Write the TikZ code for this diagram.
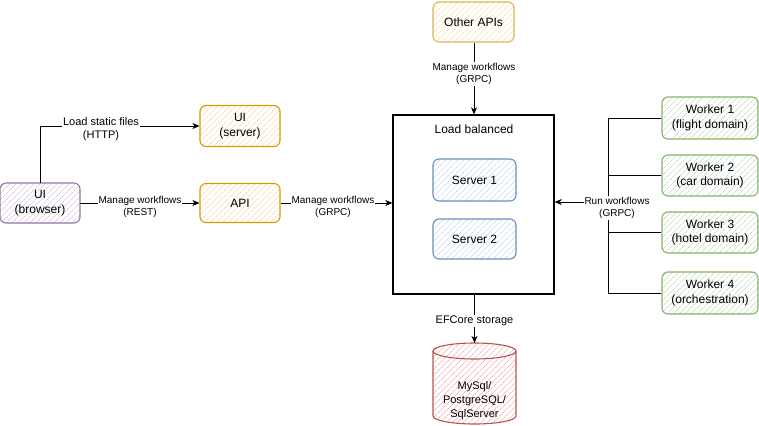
\documentclass[tikz,border=0pt]{standalone}
\usepackage{fontspec}
\setmainfont{Liberation Sans}
\usetikzlibrary{arrows.meta,patterns.meta}
\definecolor{purS}{HTML}{9673A6}\definecolor{purF}{HTML}{D9C8E2}
\definecolor{orS}{HTML}{D79B00}\definecolor{orF}{HTML}{FAD9B4}
\definecolor{yeS}{HTML}{D6B656}\definecolor{yeF}{HTML}{F8E6AE}
\definecolor{blS}{HTML}{6C8EBF}\definecolor{blF}{HTML}{C9DBF5}
\definecolor{grS}{HTML}{82B366}\definecolor{grF}{HTML}{C6E0C4}
\definecolor{reS}{HTML}{B85450}\definecolor{reF}{HTML}{F2B8B5}
\begin{document}
\begin{tikzpicture}[x=1pt,y=-1pt,
  sk/.style 2 args={draw=#1, rounded corners=6pt, line width=1.1pt,
    pattern={Lines[angle=45,distance=4pt,line width=0.7pt]}, pattern color=#2,
    align=center, font=\fontsize{12}{14.5}\selectfont, inner sep=1pt},
  conn/.style={line width=0.8pt, -{Stealth[length=7pt,width=6pt,inset=2pt]}},
  plain/.style={line width=0.8pt},
  lab/.style={fill=white, inner sep=1pt, align=center, font=\fontsize{10}{12.5}\selectfont},
  labb/.style={fill=white, inner sep=1pt, align=center, font=\fontsize{11}{13}\selectfont}]
\useasboundingbox (0,0) rectangle (759,425);
% load balanced box
\node[draw=black, line width=1.3pt, fill=white, minimum width=161pt, minimum height=179pt] (lb) at (473.5,204.5) {};
\node[font=\fontsize{12}{14}\selectfont] (lbt) at (474,129) {Load balanced};
% nodes
\node[sk={purS}{purF}, minimum width=80pt, minimum height=40pt] (uib) at (40,203) {UI\\(browser)};
\node[sk={orS}{orF}, minimum width=80pt, minimum height=41pt] (uis) at (240,126) {UI\\(server)};
\node[sk={orS}{orF}, minimum width=80pt, minimum height=39pt] (api) at (240,203) {API};
\node[sk={yeS}{yeF}, minimum width=81pt, minimum height=40pt] (oth) at (473.5,22) {Other APIs};
\node[sk={blS}{blF}, minimum width=83pt, minimum height=42pt] (s1) at (474.5,180) {Server 1};
\node[sk={blS}{blF}, minimum width=83pt, minimum height=40pt] (s2) at (474.5,239) {Server 2};
\node[sk={grS}{grF}, minimum width=96pt, minimum height=42pt] (w1) at (710,118) {Worker 1\\(flight domain)};
\node[sk={grS}{grF}, minimum width=96pt, minimum height=41pt] (w2) at (710,175.5) {Worker 2\\(car domain)};
\node[sk={grS}{grF}, minimum width=96pt, minimum height=41pt] (w3) at (710,232.5) {Worker 3\\(hotel domain)};
\node[sk={grS}{grF}, minimum width=96pt, minimum height=42pt] (w4) at (710,293) {Worker 4\\(orchestration)};
% database cylinder
\path[pattern={Lines[angle=45,distance=4pt,line width=0.7pt]}, pattern color=reF]
  (433,351) -- (433,416) arc[start angle=180,end angle=0,x radius=41.5,y radius=8]
  -- (516,351) arc[start angle=0,end angle=-180,x radius=41.5,y radius=8] -- cycle;
\draw[reS, line width=1.1pt]
  (433,351) -- (433,416) arc[start angle=180,end angle=0,x radius=41.5,y radius=8]
  -- (516,351) arc[start angle=0,end angle=-180,x radius=41.5,y radius=8] -- cycle;
\draw[reS, line width=1.1pt] (516,351) arc[start angle=0,end angle=180,x radius=41.5,y radius=8];
\coordinate (dbtop) at (474.5,343);
\node[align=center, font=\fontsize{11}{14}\selectfont] (db) at (474.5,401) {MySql/\\PostgreSQL/\\SqlServer};
% connectors
\draw[conn] (uib.north) |- (uis.west);
\node[labb] (l1) at (101,129) {Load static files\\(HTTP)};
\draw[conn] (uib.east) -- (api.west);
\node[lab] (l2) at (140,207) {Manage workflows\\(REST)};
\draw[conn] (api.east) -- (api.east -| lb.west);
\node[lab] (l3) at (333,207) {Manage workflows\\(GRPC)};
\draw[conn] (oth.south -| lbt) -- (lb.north -| lbt);
\node[lab] (l4) at (474,74) {Manage workflows\\(GRPC)};
\draw[conn] (lb.south -| dbtop) -- (dbtop);
\node[labb] (l5) at (474.5,321) {EFCore storage};
% workers bus
\coordinate (bus) at (608,202);
\draw[plain] (w1.west) -- (w1.west -| bus) -- (w4.west -| bus) -- (w4.west);
\draw[plain] (w2.west) -- (w2.west -| bus);
\draw[plain] (w3.west) -- (w3.west -| bus);
\draw[conn] (bus) -- (bus -| lb.east);
\node[lab] (l6) at (617,208) {Run workflows\\(GRPC)};
\end{tikzpicture}
\end{document}
